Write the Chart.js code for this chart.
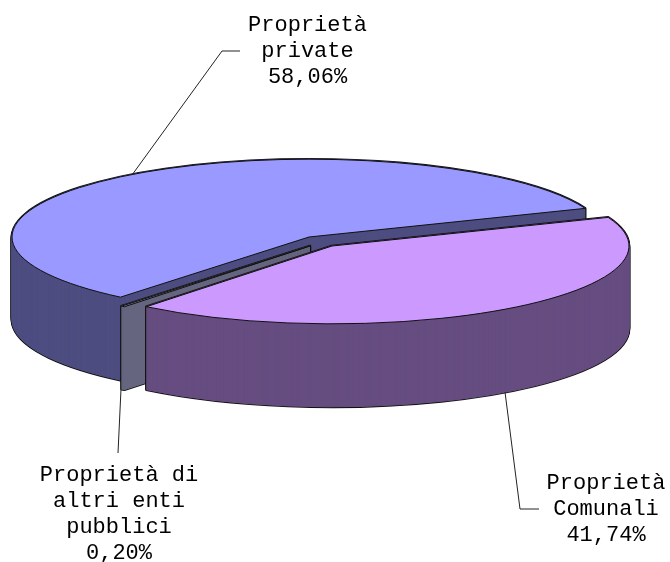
<!DOCTYPE html>
<html>
<head>
<meta charset="utf-8">
<title>Proprietà</title>
<script src="https://cdn.jsdelivr.net/npm/chart.js@4"></script>
<style>
  body { margin: 0; background: #fff; }
  canvas { display: block; }
</style>
</head>
<body>
<canvas id="torta" width="670" height="562"></canvas>
<script>
// dati
var categorie = ["Proprietà private", "Proprietà Comunali", "Proprietà di altri enti pubblici"];
var valori = [58.06, 41.74, 0.20];
var righeEtichette = [["Proprietà", "private"], ["Proprietà", "Comunali"], ["Proprietà di", "altri enti", "pubblici"]];

// stile
var coloriTop = ["#9999FF", "#CC99FF", "#8080A0"];
var coloriLato = ["#4D4D80", "#664D80", "#666680"];
var centri = [[309, 237], [332, 246], [310, 246]];   // fette staccate, centro a video
var ordine = [0, 2, 1];                              // dal fondo verso il davanti
var schiaccia = 0.262;
var spessore = 83;
var raggio = 297;

// posizione etichette: centro x, prima baseline
var posEtichette = [[307.5, 31], [606, 489], [119, 481]];
var guide = [
  [[132, 175], [222, 51], [240, 51]],
  [[505, 392], [520, 509], [539, 509]],
  [[121, 389], [118, 453]]
];

function entra(ctx, arc, i, giu) {
  ctx.translate(centri[i][0], centri[i][1] + giu);
  ctx.scale(1, schiaccia);
  ctx.translate(-arc.x, -arc.y);
}

function percorso(ctx, arc, i, giu) {
  ctx.save();
  entra(ctx, arc, i, giu);
  ctx.beginPath();
  ctx.moveTo(arc.x, arc.y);
  ctx.arc(arc.x, arc.y, arc.outerRadius, arc.startAngle, arc.endAngle);
  ctx.closePath();
  ctx.restore();
}

var torta3d = {
  id: "torta3d",
  beforeDatasetsDraw: function (chart) {
    var ctx = chart.ctx;
    var arcs = chart.getDatasetMeta(0).data;
    ordine.forEach(function (i) {
      var arc = arcs[i];
      var g;
      ctx.lineJoin = "round";
      // prima il contorno nero, poi il lato sopra (anche col tratto, la fetta sottile sparisce altrimenti)
      ctx.strokeStyle = "#111";
      ctx.lineWidth = 2.6;
      for (g = spessore; g >= 0; g--) {
        percorso(ctx, arc, i, g);
        ctx.stroke();
      }
      ctx.fillStyle = coloriLato[i];
      ctx.strokeStyle = coloriLato[i];
      ctx.lineWidth = 1;
      for (g = spessore; g >= 0; g--) {
        percorso(ctx, arc, i, g);
        ctx.fill();
        ctx.stroke();
      }
      ctx.save();
      entra(ctx, arc, i, 0);
      arc.draw(ctx);
      ctx.restore();
      percorso(ctx, arc, i, 0);
      ctx.strokeStyle = "#111";
      ctx.lineWidth = 1;
      ctx.stroke();
    });
    return false;
  },
  afterDraw: function (chart) {
    var ctx = chart.ctx;
    ctx.save();
    ctx.strokeStyle = "#222";
    ctx.lineWidth = 1;
    guide.forEach(function (g) {
      ctx.beginPath();
      g.forEach(function (p, k) {
        if (k == 0) ctx.moveTo(p[0], p[1]); else ctx.lineTo(p[0], p[1]);
      });
      ctx.stroke();
    });
    ctx.fillStyle = "#000";
    ctx.font = "22px 'Liberation Mono'";
    ctx.textAlign = "center";
    ctx.textBaseline = "alphabetic";
    categorie.forEach(function (c, i) {
      var righe = righeEtichette[i].concat([valori[i].toFixed(2).replace(".", ",") + "%"]);
      righe.forEach(function (r, k) {
        ctx.fillText(r, posEtichette[i][0], posEtichette[i][1] + k * 26);
      });
    });
    ctx.restore();
  }
};

new Chart(document.getElementById("torta"), {
  type: "pie",
  data: {
    labels: categorie,
    datasets: [{
      data: valori,
      backgroundColor: coloriTop,
      borderWidth: 0,
      radius: raggio
    }]
  },
  options: {
    responsive: false,
    animation: false,
    rotation: 219.4,
    plugins: { legend: { display: false }, tooltip: { enabled: false } }
  },
  plugins: [torta3d]
});
</script>
</body>
</html>
